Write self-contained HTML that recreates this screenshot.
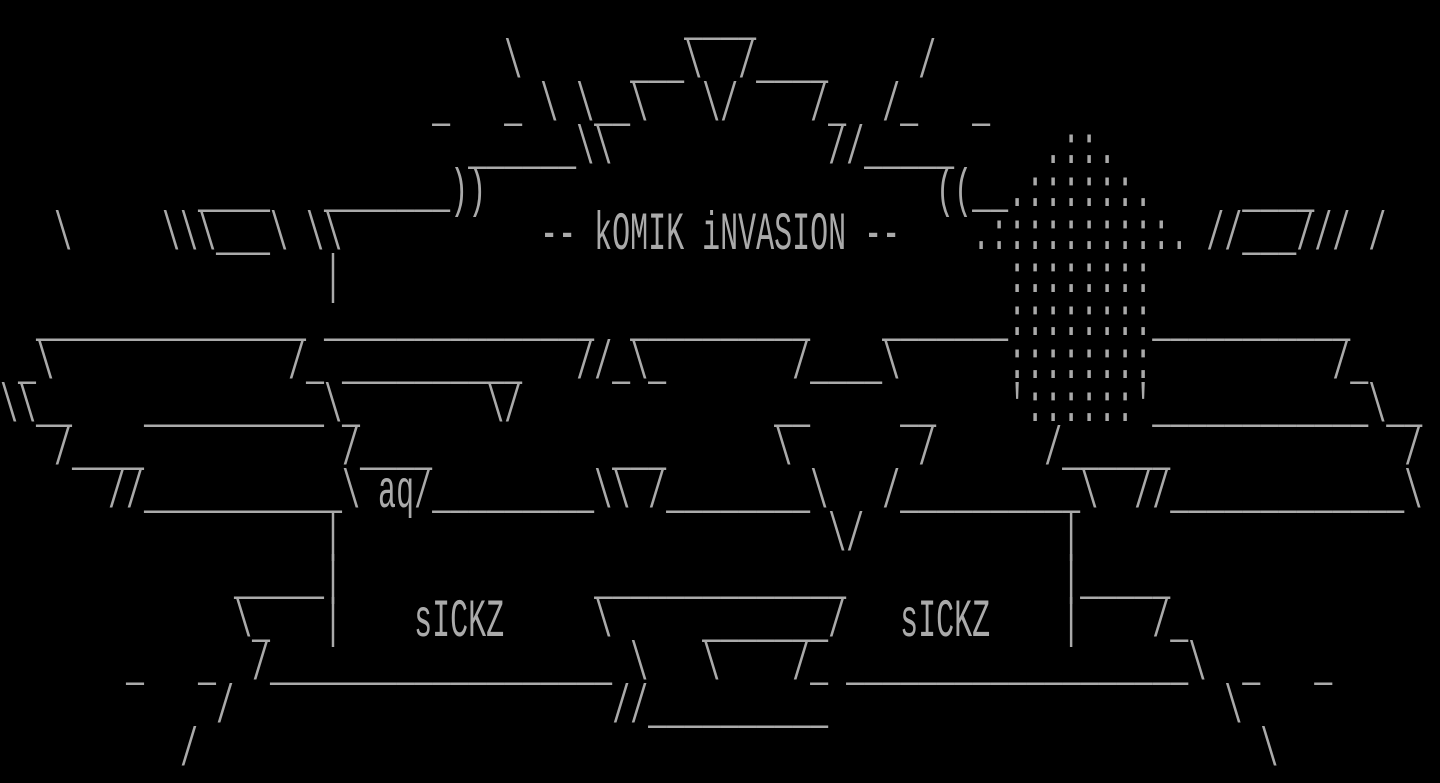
<!DOCTYPE html>
<html><head><meta charset="utf-8"><style>
html,body{margin:0;padding:0;background:#000;width:1440px;height:776px;overflow:hidden}
.r{position:absolute;left:0;white-space:pre;font-family:"Liberation Mono",monospace;font-size:30px;line-height:24px;color:#aaaaaa;transform:scaleY(1.8);transform-origin:0 0}
</style></head><body>
<div class="r" style="top:0px">                                      ____</div>
<div class="r" style="top:43px">                            \      ___\  /____     /</div>
<div class="r" style="top:86px">                        _   _ \ \__\   \/    /_  /_   _</div>
<div class="r" style="top:129px">                          ______\\            //_____     .::.</div>
<div class="r" style="top:172px">           ____   _______))                         ((__.::::::.     ____</div>
<div class="r" style="top:215px">   \     \\\___\ \\           -- kOMIK iNVASION --    .::::::::::. //___/// /</div>
<div class="r" style="top:258px">                  |                                     ::::::::</div>
<div class="r" style="top:301px">  _______________ _______________  __________    _______::::::::___________</div>
<div class="r" style="top:344px"> _\             /_ __________   //_\_       /____\      ::::::::          /_</div>
<div class="r" style="top:387px">\\__    __________\_       \/              __     __    '::::::'____________\__</div>
<div class="r" style="top:430px">   /____           /____          ___      \       /      /______             /</div>
<div class="r" style="top:473px">      //___________\ aq/_________\\ /________\   /__________\  //_____________\</div>
<div class="r" style="top:516px">                  |                           \/           |</div>
<div class="r" style="top:559px">             _____|              ______________            |_____</div>
<div class="r" style="top:602px">             \_   |    sICKZ     \     _______/   sICKZ    |    /_</div>
<div class="r" style="top:645px">       _   _  /___________________ \   \    /_ ___________________\  _   _</div>
<div class="r" style="top:688px">            /                     //__________                      \</div>
<div class="r" style="top:731px">          /                                                           \</div>
</body></html>
